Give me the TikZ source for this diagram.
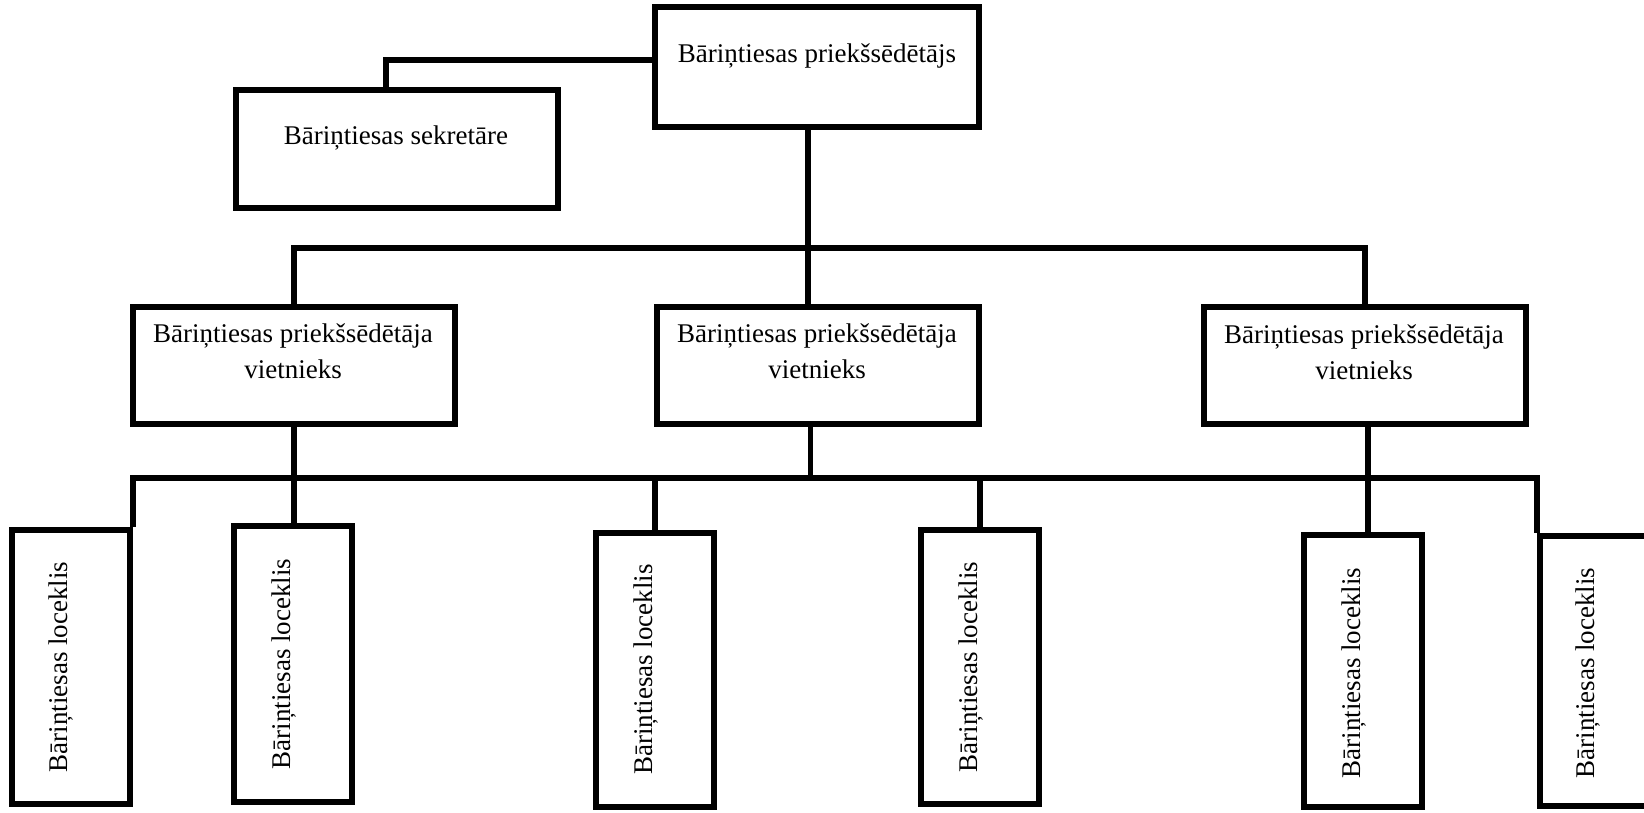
\documentclass[tikz,border=0pt]{standalone}
\usepackage{fontspec}
\setmainfont{Liberation Serif}
\usepackage{tikz}

\begin{document}
\begin{tikzpicture}[x=0.5pt,y=-0.5pt,
    box/.style={draw,line width=3pt,inner sep=0pt,minimum width=161pt,minimum height=58.5pt},
    member/.style={draw,line width=3pt,inner sep=0pt,minimum width=59pt,minimum height=137pt},
    conn/.style={line width=2.6pt},
    txt/.style={inner sep=0pt,font=\fontsize{13.5}{18}\selectfont}]
    \clip (0,0) rectangle (1644,813);
    \fill[white] (0,0) rectangle (1644,813);
    \node[box,minimum width=162pt,minimum height=60pt] (chair) at (817,67) {};
    \node[box,minimum height=59pt] (secr) at (397,149) {};
    \node[box] (dep1) at (294,365.5) {};
    \node[box] (dep2) at (817.5,365.5) {};
    \node[box] (dep3) at (1365,365.5) {};
    \node[member] (mem1) at (71,667) {};
    \node[member,minimum height=138pt] (mem2) at (293,664) {};
    \node[member] (mem3) at (655,669.5) {};
    \node[member] (mem4) at (980,667) {};
    \node[member,minimum height=136pt] (mem5) at (1363,671) {};
    \node[member,minimum height=135pt] (mem6) at (1599,671) {};
    \node[txt,anchor=base] (chairtxt) at (817,63) {Bāriņtiesas priekšsēdētājs};
    \node[txt,anchor=base] (secrtxt) at (396,145) {Bāriņtiesas sekretāre};
    \node[txt,anchor=base,align=center] (dep1txt) at (293,378) {Bāriņtiesas priekšsēdētāja\\vietnieks};
    \node[txt,anchor=base,align=center] (dep2txt) at (817,378) {Bāriņtiesas priekšsēdētāja\\vietnieks};
    \node[txt,anchor=base,align=center] (dep3txt) at (1364,379) {Bāriņtiesas priekšsēdētāja\\vietnieks};
    \node[txt,anchor=base,rotate=90] (mem1txt) at (68,667) {Bāriņtiesas loceklis};
    \node[txt,anchor=base,rotate=90] (mem2txt) at (290,664) {Bāriņtiesas loceklis};
    \node[txt,anchor=base,rotate=90] (mem3txt) at (652,669.5) {Bāriņtiesas loceklis};
    \node[txt,anchor=base,rotate=90] (mem4txt) at (977,667) {Bāriņtiesas loceklis};
    \node[txt,anchor=base,rotate=90] (mem5txt) at (1360,673) {Bāriņtiesas loceklis};
    \node[txt,anchor=base,rotate=90] (mem6txt) at (1594,673) {Bāriņtiesas loceklis};
    \coordinate (bus1) at (808,248);
    \coordinate (bus2) at (810,478);
    \draw[conn] ([yshift=3.5pt]chair.west) -| ([xshift=-5.5pt]secr.north);
    \draw[conn] ([xshift=-4.5pt]chair.south) -- ([xshift=-4.5pt]chair.south |- dep2.north);
    \draw[conn] (dep1.north) |- (bus1) -| (dep3.north);
    \draw[conn] (mem1.north east) |- (bus2) -| (mem6.north west);
    \draw[conn] (dep1.south) -- (dep1.south |- mem2.north);
    \draw[conn] ([xshift=-3.5pt]dep2.south) -- ([xshift=-3.5pt]dep2.south |- bus2);
    \draw[conn] ([xshift=1.5pt]dep3.south) -- ([xshift=1.5pt]dep3.south |- mem5.north);
    \draw[conn] (mem3.north) -- (mem3.north |- bus2);
    \draw[conn] (mem4.north) -- (mem4.north |- bus2);
\end{tikzpicture}
\end{document}
